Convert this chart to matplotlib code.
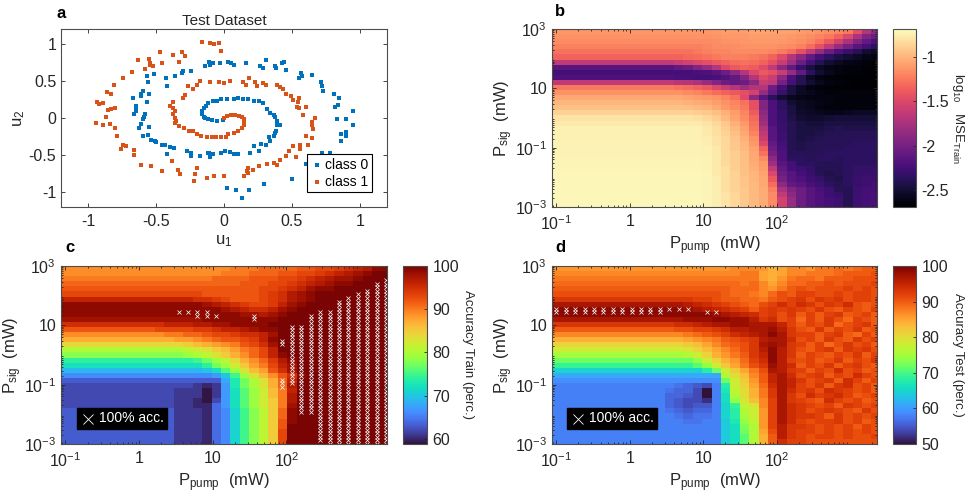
import matplotlib
matplotlib.use("Agg")
import matplotlib.pyplot as plt
import numpy as np
from matplotlib.patches import Rectangle
from matplotlib.ticker import LogLocator, NullFormatter

plt.rcParams["font.family"] = ["Liberation Sans", "DejaVu Sans"]
plt.rcParams["mathtext.default"] = "regular"
plt.rcParams["axes.unicode_minus"] = False

# Test dataset points
class0_u1 = [0.95, 0.95, 0.90, 0.83, 0.90, 0.865, 0.895, 0.865, 0.845, 0.81, 0.84, 0.82, 0.73, 0.725, 0.715, 0.65,
             0.57, 0.575, 0.555, 0.455, 0.445, 0.425, 0.375, 0.38, 0.31, 0.265, 0.285, 0.16, 0.07, 0.05, 0.03, -0.03,
             -0.08, -0.11, -0.10, -0.14, -0.24, -0.305, -0.31, -0.36, -0.43, -0.42, -0.515, -0.57, -0.56, -0.55,
             -0.60, -0.61, -0.67, -0.61, -0.565, -0.65, -0.65, -0.65, -0.665, -0.585, -0.59, -0.60, -0.61, -0.625,
             -0.555, -0.60, -0.56, -0.535, -0.51, -0.50, -0.455, -0.435, -0.40, -0.365, -0.42, -0.275, -0.24, -0.24,
             -0.18, -0.115, -0.105, -0.08, -0.11, -0.025, 0.01, 0.045, 0.07, 0.10, 0.19, 0.22, 0.255, 0.27, 0.31,
             0.33, 0.34, 0.365, 0.375, 0.385, 0.39, 0.41, 0.39, 0.375, 0.365, 0.335, 0.315, 0.29, 0.255, 0.22, 0.18,
             0.14, 0.10, 0.07, 0.02, -0.02, -0.05, -0.08, -0.115, -0.13, -0.15, -0.16, -0.165, -0.15, -0.14, -0.115,
             -0.09, -0.05, -0.01, 0.78, 0.72, 0.60, 0.50, 0.295, 0.185, 0.13, 0.09, 0.02]
class0_u2 = [0.09, -0.09, -0.01, -0.01, -0.19, -0.215, -0.245, -0.31, 0.27, 0.33, 0.18, 0.155, 0.365, 0.425, 0.49, 0.58,
             0.605, 0.57, 0.545, 0.65, 0.75, 0.74, 0.70, 0.68, 0.785, 0.70, 0.68, 0.735, 0.72, 0.74, 0.76, 0.74,
             0.74, 0.755, 0.72, 0.695, 0.63, 0.63, 0.605, 0.57, 0.54, 0.435, 0.59, 0.57, 0.48, 0.32,
             0.36, 0.32, 0.27, 0.29, 0.21, 0.165, 0.135, 0.09, 0.06, 0.06, 0.015, -0.02, -0.075, -0.14,
             -0.12, -0.245, -0.225, -0.29, -0.315, -0.32, -0.365, -0.37, -0.385, -0.41, -0.48, -0.45, -0.47, -0.515,
             -0.515, -0.47, -0.525, -0.49, -0.47, -0.47, -0.45, -0.46, -0.48, -0.485, -0.47, -0.38, -0.45, -0.345, -0.37,
             -0.255, -0.315, -0.245, -0.20, -0.17, -0.10, -0.10, -0.045, 0.02, 0.045, 0.07, 0.12, 0.20, 0.225, 0.235, 0.25,
             0.26, 0.265, 0.255, 0.26, 0.25, 0.235, 0.225, 0.20, 0.16, 0.13, 0.09, 0.05, 0.02, 0, -0.015,
             -0.03, -0.04, -0.03, -0.47, -0.47, -0.62, -0.82, -0.89, -0.97, -1.08, -0.975, -0.945]
class1_u1 = [0.65, 0.67, 0.645, 0.655, 0.605, 0.65, 0.615, 0.56, 0.56, 0.51, 0.475, 0.53, 0.46, 0.415, 0.39, 0.365,
             0.315, 0.255, 0.215, 0.18, 0.17, 0.18, 0.145, 0, -0.075, -0.125, -0.20, -0.215, -0.22, -0.325, -0.335,
             -0.38, -0.455, -0.535, -0.61, -0.66, -0.66, -0.72, -0.74, -0.755, -0.79, -0.80, -0.84, -0.89, -0.94,
             -0.87, -0.855, -0.83, -0.805, -0.89, -0.92, -0.935, -0.86, -0.835, -0.81, -0.745, -0.68, -0.63, -0.58,
             -0.55, -0.545, -0.545, -0.525, -0.47, -0.455, -0.375, -0.33, -0.31, -0.29, -0.165, -0.105, -0.075, -0.04,
             -0.02, -0.265, -0.23, -0.20, -0.18, -0.29, -0.305, -0.375, -0.40, -0.375, -0.36, -0.375, -0.36, -0.35,
             -0.10, -0.035, 0, 0.045, 0.14, 0.16, 0.185, 0.23, 0.24, 0.29, 0.31, 0.39, 0.415, 0.435, 0.46, 0.49, 0.51,
             0.55, 0.545, 0.535, 0.55, 0.60, 0.58, 0, 0.02, 0.05, 0.08, 0.11, 0.13, 0.145, 0.15, 0.15, 0.13, 0.10,
             0.07, 0.03, 0.015, -0.02, -0.06, -0.09, -0.125, -0.17, -0.20, -0.225, -0.26, -0.295, -0.33, -0.36]
class1_u2 = [-0.09, 0, -0.05, -0.155, -0.24, -0.27, -0.37, -0.37, -0.42, -0.38, -0.45, -0.525, -0.515, -0.56, -0.63, -0.605,
             -0.62, -0.65, -0.70, -0.67, -0.72, -0.74, -0.785, -0.785, -0.785, -0.805, -0.68, -0.76, -0.845, -0.76, -0.70,
             -0.585, -0.715, -0.65, -0.63, -0.425, -0.50, -0.38, -0.36, -0.415, -0.24, -0.135, -0.075, -0.10, -0.07,
             0.01, 0.11, 0.12, 0.135, 0.20, 0.19, 0.215, 0.35, 0.32, 0.44, 0.545, 0.615, 0.785, 0.66,
             0.795, 0.74, 0.71, 0.695, 0.89, 0.74, 0.85, 0.76, 0.895, 0.84, 1.02, 1.01, 0.995, 1.01,
             0.905, 0.435, 0.39, 0.45, 0.50, 0.315, 0.27, 0.215, 0.165, 0.135, 0.09, 0.05, 0, -0.04,
             0.48, 0.48, 0.47, 0.505, 0.485, 0.45, 0.54, 0.49, 0.435, 0.47, 0.44, 0.44, 0.415, 0.39, 0.33, 0.30, 0.245,
             0.27, 0.22, 0.155, 0.13, 0.155, 0.045, 0, 0.03, 0.04, 0.035, 0.03, 0.01, -0.02, -0.06, -0.10, -0.14, -0.17,
             -0.20, -0.22, -0.25, -0.25, -0.26, -0.25, -0.26, -0.24, -0.21, -0.18, -0.18, -0.13, -0.11, -0.07]

# log10 MSE train, times -100, top row first
mse_train = [
    [113]*17 + [112,110,110,110,108,108,108,108,108,110,112,115,118,120,125,145,170,190],
    [115]*17 + [114,112,112,112,110,110,110,110,112,114,116,120,125,135,150,175,195,205],
    [118]*16 + [118,116,115,114,113,112,112,112,112,114,116,120,128,140,155,175,195,210,220],
    [122]*16 + [120,118,117,116,115,115,115,115,116,118,122,130,145,165,185,200,215,225,235],
    [128]*15 + [125,122,120,120,118,118,118,118,120,124,130,145,165,185,205,220,230,240,250,255],
    [135]*14 + [132,130,128,125,122,122,122,124,128,135,148,170,190,210,225,235,245,250,255,260,262],
    [165]*13 + [160,155,150,145,140,135,130,128,130,135,145,160,180,205,225,240,250,255,260,262,265,265],
    [215]*13 + [210,205,195,185,170,150,140,135,138,148,165,190,210,230,245,255,260,262,265,265,267,267],
    [225]*15 + [222,220,215,205,190,170,150,140,145,160,185,210,235,250,258,262,265,267,268,268],
    [220]*13 + [222,222,225,225,222,218,210,195,170,150,160,190,220,240,255,262,265,267,268,268,268,268],
    [165]*13 + [168,170,175,185,195,205,210,205,190,160,165,200,225,240,250,258,262,265,267,268,268,268],
    [125]*13 + [128,130,135,140,150,160,170,180,170,170,205,225,245,255,262,265,267,268,268,268,268,268],
    [115]*13 + [115,118,120,125,130,135,140,145,155,185,210,230,245,255,258,262,265,265,265,265,265,265],
    [105]*14 + [108,110,112,115,120,128,148,190,215,235,250,258,260,262,262,262,265,265,265,265,265],
    [100]*14 + [102,104,106,110,115,120,128,145,195,220,235,250,255,258,260,262,265,265,265,265,265],
    [95]*14 + [96,98,100,105,112,118,125,145,195,220,235,245,255,258,262,265,265,265,265,265,265],
    [88]*14 + [88,90,92,96,102,110,120,138,190,220,232,245,252,255,258,260,260,258,255,255,255],
    [80]*14 + [80,82,85,90,98,108,118,132,185,220,232,242,250,252,252,250,248,248,248,248,248],
    [78]*14 + [78,78,80,85,92,102,112,128,180,220,230,240,245,248,248,245,245,245,245,245,245],
    [75]*14 + [75,75,78,82,90,98,108,125,170,215,230,240,245,245,245,242,240,242,242,242,242],
    [75]*14 + [75,75,78,82,88,96,105,120,165,215,228,240,245,245,242,240,240,238,238,238,238],
    [75]*14 + [75,75,76,80,86,94,102,115,160,215,228,240,245,242,240,238,238,238,238,238,238],
    [74]*14 + [74,74,76,80,85,92,100,112,150,210,225,240,242,240,238,238,238,238,235,235,235],
    [74]*14 + [74,74,75,79,85,92,98,108,135,205,222,240,242,240,238,238,238,235,235,235,235],
    [74]*14 + [74,74,75,78,84,90,96,106,128,200,220,238,238,238,238,235,235,235,235,235,235],
    [73]*14 + [73,73,74,78,84,90,96,105,118,190,220,235,235,238,235,235,238,235,235,235,235],
    [73]*14 + [73,73,74,78,84,90,96,104,112,180,215,225,235,235,238,240,238,235,235,235,235],
    [73]*14 + [73,73,74,78,82,90,95,102,110,165,210,225,228,232,240,240,240,235,232,232,232],
    [72]*14 + [72,72,73,78,82,88,95,100,108,150,205,215,225,230,238,242,240,235,232,230,230],
    [72]*14 + [72,72,73,76,82,88,94,100,106,140,200,215,220,228,232,240,242,235,230,228,228],
    [72]*14 + [72,72,73,76,82,88,94,98,106,130,190,210,215,222,228,235,240,235,230,228,225],
    [72]*14 + [72,72,73,76,82,88,92,98,104,122,175,195,205,215,222,228,238,240,228,225,225],
    [72]*14 + [72,72,73,76,80,86,92,98,104,118,165,190,205,215,220,228,232,240,228,225,222],
    [72]*14 + [72,72,73,76,80,86,92,98,104,118,155,185,205,215,220,225,228,240,228,225,222],
    [72]*14 + [72,72,73,76,80,86,92,98,104,118,155,185,205,215,220,225,228,240,228,225,222],
]

# Train accuracy in percent, top row first
acc_train = [
    [89]*18 + [90,90,90,91,91,91,91,92,92,93,93,94,95,96,97,99,99],
    [89]*17 + [90,90,90,91,91,91,92,92,93,93,94,95,96,97,98,99,100,100],
    [90]*16 + [91,91,91,91,92,92,92,93,93,94,95,96,97,98,98,99,100,100,100],
    [91]*16 + [91,91,91,92,92,92,93,93,94,95,96,97,98,99,99,100,100,100,100],
    [92]*15 + [92,92,92,92,92,92,93,93,94,95,96,98,99,99,100,100,100,100,100,100],
    [93]*14 + [93,92,92,92,92,92,92,93,94,95,97,98,99,100,100,100,100,100,100,100,100],
    [96]*14 + [95,95,94,93,92,92,92,93,94,95,97,98,99,100,100,100,100,100,100,100,100],
    [99]*15 + [98,97,96,95,94,93,93,94,96,98,99,100,100,100,100,100,100,100,100,100],
    [99]*16 + [99,98,97,96,95,95,96,98,99,100,100,100,100,100,100,100,100,100,100],
    [99]*17 + [99,99,98,98,97,98,99] + [100]*11,
    [98]*15 + [99]*8 + [100]*12,
    [95]*9 + [95,95,96,96,96,97,97,98,98,99,99,99,99] + [100]*13,
    [92]*9 + [92,93,93,93,93,94,94,95,96,96,97,98,99,99] + [100]*12,
    [89]*10 + [89,90,90,91,91,92,93,93,94,95,95,96,98] + [100]*12,
    [87]*11 + [87,88,88,89,90,91,92,92,93,94,96,99] + [100]*12,
    [84]*11 + [84,84,85,86,87,88,89,90,92,93,95,98] + [100]*12,
    [80]*12 + [80,81,82,83,85,86,88,90,91,93,96] + [100]*12,
    [78]*13 + [79,80,81,83,85,87,89,91,93,96,99] + [100]*11,
    [74]*14 + [75,77,79,81,84,87,89,91,94,97,99] + [100]*10,
    [72]*14 + [72,74,77,79,82,85,88,90,93,96,98] + [100]*10,
    [69]*15 + [70,72,76,79,83,86,88,92,95,98] + [100]*10,
    [66]*16 + [67,70,75,79,83,86,89,92,95,99] + [100]*9,
    [63]*17 + [68,73,77,80,83,87,91,96] + [100]*10,
    [62]*14 + [61,60,61,67,73,77,80,83,87,91,97] + [100]*10,
    [62]*12 + [61,61,61,59,61,67,72,76,79,82,86,90,96] + [100]*10,
    [62]*12 + [61,61,61,59,61,67,72,76,79,82,86,90,97] + [100]*10,
    [62]*12 + [61,61,60,59,62,67,72,76,79,82,85,90,97] + [100]*10,
    [62]*12 + [61,61,60,60,64,67,72,76,79,82,85,90,98] + [100]*10,
    [63]*12 + [61,61,61,60,64,66,71,75,78,81,85,91,99] + [100]*10,
    [63]*12 + [61,61,61,60,64,66,71,75,78,81,85,91,99] + [100]*10,
    [63]*12 + [61,61,61,60,64,66,71,75,78,81,85,92,99] + [100]*10,
    [63]*12 + [61,61,61,60,64,66,71,75,78,81,85,92,100] + [100]*10,
    [63]*12 + [61,61,61,60,64,66,71,75,78,81,85,93,100] + [100]*10,
    [63]*12 + [61,61,61,60,64,66,71,75,78,81,85,93,100] + [100]*10,
    [63]*12 + [61,61,61,60,64,66,71,75,78,81,85,93,100] + [100]*10,
]

# Test accuracy in percent, top row first
acc_test = [
    [86]*18 + [86,87,87,87,86,84,85,87,87,86,88,88,89,88,89,90,90],
    [87]*18 + [87,87,88,88,85,84,85,87,87,88,88,88,89,90,90,90,91],
    [88]*16 + [88,88,88,88,88,88,85,84,86,88,89,89,88,90,90,90,91,91,91],
    [89]*17 + [89,89,89,88,89,87,85,87,89,89,90,90,91,90,91,91,91,92],
    [90]*17 + [90,90,89,89,89,87,86,88,90,91,90,91,91,91,92,91,92,91],
    [91]*15 + [91,91,91,90,89,89,88,87,89,91,90,92,92,91,91,92,91,92,92,91],
    [93]*14 + [93,92,92,91,90,90,89,89,88,90,91,92,93,91,93,92,93,91,92,92,91],
    [97]*14 + [96,95,94,93,92,91,90,89,91,92,94,92,94,93,91,93,92,94,91,90,91],
    [99]*14 + [98,97,96,95,94,93,92,90,92,93,92,93,92,91,93,91,90,92,91,90,92],
    [99]*16 + [99,98,97,96,95,94,92,93,91,93,90,92,90,92,93,90,91,92,90],
    [97]*14 + [98,98,98,99,99,98,98,96,93,94,91,92,89,92,90,93,91,89,92,91,90],
    [93]*12 + [93,94,94,95,96,97,97,98,98,97,97,97,95,92,90,92,91,93,89,91,92,93,90],
    [90]*13 + [91,91,92,92,93,94,96,96,97,97,98,96,93,91,90,93,90,92,91,93,90,91],
    [87]*13 + [87,88,89,90,91,92,94,95,96,97,99,97,93,92,92,90,92,93,90,89,92,90],
    [84]*14 + [85,86,87,88,90,91,92,93,96,97,97,94,91,92,90,93,91,90,93,91,92],
    [81]*14 + [82,83,85,87,89,90,91,93,97,98,97,93,92,90,92,89,91,93,91,92,90],
    [78]*14 + [79,81,83,85,87,89,91,93,96,99,96,93,91,90,92,93,90,93,92,93,91],
    [75]*14 + [76,78,81,84,86,88,90,93,95,99,96,93,90,92,91,90,92,91,93,90,92],
    [72]*15 + [74,78,81,84,86,89,92,94,99,96,92,91,92,90,91,93,90,92,91,93],
    [69]*15 + [71,74,78,82,85,88,91,93,98,96,94,90,92,91,93,90,92,93,91,90],
    [65]*16 + [68,72,78,82,85,88,91,97,96,93,92,90,92,91,94,91,92,90,91],
    [61]*17 + [61,76,80,83,87,90,95,97,94,91,92,93,90,92,91,94,92,91],
    [59]*17 + [59,72,78,82,86,90,95,97,95,93,91,92,93,90,94,92,90,92],
    [58]*13 + [57,56,55,54,58,68,78,81,85,89,94,97,95,92,91,93,90,93,94,91,92,90],
    [58]*12 + [57,56,56,54,50,58,67,77,80,84,88,93,97,94,92,93,91,94,93,92,91,92,90],
    [58]*12 + [56,56,55,54,50,58,66,76,80,84,88,93,97,93,91,94,92,93,94,92,90,91,92],
    [58]*12 + [56,55,54,54,52,58,66,74,79,83,87,92,97,93,92,91,90,94,92,91,92,90,91],
    [58]*12 + [56,55,54,55,55,58,65,69,77,79,87,92,97,94,93,92,91,92,90,93,92,91,92],
    [58]*12 + [57,56,55,56,56,58,65,68,76,78,86,92,97,94,93,91,92,93,92,91,90,93,91],
    [58]*13 + [57,56,57,57,58,65,68,75,78,86,92,97,94,93,93,92,90,93,91,92,91,92],
    [58]*14 + [57,57,58,58,64,67,74,77,86,92,97,94,92,91,92,92,93,91,92,90,91],
    [58]*15 + [58,58,58,64,66,73,76,86,92,96,93,93,92,91,92,91,92,90,92,91],
    [58]*18 + [64,66,72,76,85,91,96,93,92,92,91,92,91,92,91,92,91],
    [58]*18 + [64,66,71,76,84,90,96,93,92,91,92,92,91,92,91,91,92],
    [58]*18 + [64,66,71,76,84,90,94,92,92,91,91,91,91,91,91,91,91],
]

# 100% accuracy runs: pump column index, lowest and highest Psig
train_mark_col = [12, 13, 14, 15, 16, 20, 23, 23, 24, 25, 26, 27, 28, 29, 30, 31, 32, 33, 34]
train_mark_low = [26, 26, 19, 19, 20, 15, 1.8, 0.07, 0.09, 0.01, 0.01, 0.0013, 0.001, 0.001, 0.001, 0.001, 0.001, 0.001, 0.001]
train_mark_high = [29, 29, 29, 29, 22, 22, 3.2, 0.15, 9.5, 12, 22, 28, 36, 66, 86, 116, 151, 272, 372]
test_mark_col = [0, 1, 2, 3, 4, 5, 6, 7, 8, 9, 10, 11, 12, 13, 14, 16, 17]
test_mark_low = [26]*12 + [35, 35, 35, 26, 26]
test_mark_high = [37]*15 + [29, 29]

x_ticks = [0.1, 1, 10, 100]
x_labels = ["$10^{-1}$", "1", "10", "$10^{2}$"]
y_ticks = [1e-3, 1e-1, 10, 1e3]
y_labels = ["$10^{-3}$", "$10^{-1}$", "10", "$10^{3}$"]
scatter_ticks = [-1, -0.5, 0, 0.5, 1]
scatter_labels = ["-1", "-0.5", "0", "0.5", "1"]

W, H = 969, 495
N = 35
COL_STEP = 0.128  # decades per pump column
pump = 0.1 * 10 ** (np.arange(N) * COL_STEP)
pump_edges = 0.1 * 10 ** ((np.arange(N + 1) - 0.5) * COL_STEP)
sig_edges = np.logspace(3, -3, N + 1)
mark_rows = np.logspace(-3, 3, 51)

LABEL_SIZE = 12
TICK_SIZE = 11.5
EDGE = "#4d4d4d"


def fix_rows(rows):
    return np.array([(r + r[-1:] * N)[:N] for r in rows], dtype=float)


def px_axes(left, top, right, bottom):
    return fig.add_axes([left / W, 1 - bottom / H, (right - left) / W, (bottom - top) / H])


def style_box(ax):
    for spine in ax.spines.values():
        spine.set_color(EDGE)
        spine.set_linewidth(0.8)
    ax.tick_params(which="both", direction="in", top=True, right=True, color="#262626",
                   labelsize=TICK_SIZE, labelcolor="#262626", width=0.6)
    ax.tick_params(which="major", length=3)
    ax.tick_params(which="minor", length=1.6)
    ax.tick_params(axis="x", which="major", pad=5)


def heatmap(box, cbox, data, cmap, vmin, vmax, cticks, clabels, clabel, label_x):
    ax = px_axes(*box)
    mesh = ax.pcolormesh(pump_edges, sig_edges, data, cmap=cmap, vmin=vmin, vmax=vmax,
                         shading="flat", linewidth=0, rasterized=True)
    ax.set_xscale("log")
    ax.set_yscale("log")
    ax.set_xlim(0.0873, 2309)
    ax.set_ylim(1e-3, 1e3)
    ax.set_xticks(x_ticks, x_labels)
    ax.set_yticks(y_ticks, y_labels)
    ax.xaxis.set_minor_locator(LogLocator(base=10, subs=np.arange(2, 10), numticks=50))
    ax.yaxis.set_minor_locator(LogLocator(base=10, subs=np.arange(2, 10), numticks=50))
    ax.xaxis.set_minor_formatter(NullFormatter())
    ax.yaxis.set_minor_formatter(NullFormatter())
    style_box(ax)
    ax.set_xlabel(r"$P_{pump}$  (mW)", fontsize=LABEL_SIZE, labelpad=1, color="#262626")
    ax.set_ylabel(r"$P_{sig}$  (mW)", fontsize=LABEL_SIZE, labelpad=0, color="#262626")

    cax = px_axes(*cbox)
    cbar = fig.colorbar(mesh, cax=cax)
    cbar.set_ticks(cticks, labels=clabels)
    cax.tick_params(direction="in", length=2.5, width=0.6, color="#262626",
                    labelsize=TICK_SIZE, labelcolor="#262626", pad=4)
    cbar.outline.set_edgecolor(EDGE)
    cbar.outline.set_linewidth(0.8)
    fig.text(label_x / W, 1 - (box[1] + box[3]) / 2 / H, clabel, rotation=270, ha="center", va="center",
             fontsize=9.5, color="#262626")
    return ax


def add_marks(ax, cols, lows, highs):
    for col, low, high in zip(cols, lows, highs):
        ys = mark_rows[(mark_rows >= low) & (mark_rows <= high)]
        ax.plot([pump[col]] * len(ys), ys, ls="none", marker="x", ms=2.2, mew=0.5, color="white", clip_on=True)


def add_key(ax, px_left):
    # black "100% acc." key
    box = ax.get_position()
    x0 = (px_left / W - box.x0) / box.width
    bw = (90 / W) / box.width
    y0 = ((H - 429) / H - box.y0) / box.height
    bh = (21 / H) / box.height
    ax.add_patch(Rectangle((x0, y0), bw, bh, transform=ax.transAxes, color="black", zorder=5))
    ax.plot([x0 + 11 / W / box.width], [y0 + bh / 2], transform=ax.transAxes, marker="x", ms=7,
            mew=0.6, color="white", zorder=6)
    ax.text(x0 + 22 / W / box.width, y0 + bh / 2, "100% acc.", transform=ax.transAxes, color="white",
            fontsize=10, va="center", ha="left", zorder=6)


fig = plt.figure(figsize=(W / 100, H / 100), dpi=100)

# Panel a
ax_a = px_axes(61, 29, 387, 207)
ax_a.scatter(class0_u1, class0_u2, s=9, marker="s", color="#0072BD", linewidths=0, label="class 0")
ax_a.scatter(class1_u1, class1_u2, s=9, marker="s", color="#D95319", linewidths=0, label="class 1")
ax_a.set_xlim(-1.2, 1.2)
ax_a.set_ylim(-1.2, 1.2)
ax_a.set_xticks(scatter_ticks, scatter_labels)
ax_a.set_yticks(scatter_ticks, scatter_labels)
style_box(ax_a)
ax_a.set_title("Test Dataset", fontsize=11, pad=3, color="#262626")
ax_a.set_xlabel("$u_1$", fontsize=LABEL_SIZE, labelpad=3, color="#262626")
ax_a.set_ylabel("$u_2$", fontsize=LABEL_SIZE, labelpad=1, color="#262626")
leg = ax_a.legend(loc="lower right", bbox_to_anchor=(0.954, 0.084), borderaxespad=0, fancybox=False,
                  framealpha=1, edgecolor="black", fontsize=10, handletextpad=0.1, borderpad=0.25,
                  labelspacing=0.2, handlelength=1.0, markerscale=0.9)
leg.get_frame().set_linewidth(0.8)
leg.set_zorder(10)

# Panel b
mse_values = -fix_rows(mse_train) / 100
heatmap((552, 29, 877, 207), (893, 29, 916, 207), mse_values, "magma", -2.69, -0.69,
        [-2.5, -2, -1.5, -1], ["-2.5", "-2", "-1.5", "-1"], r"$log_{10}$   $MSE_{Train}$", 958)

# Panel c
ax_c = heatmap((61, 266, 387, 444), (403, 266, 427, 444), fix_rows(acc_train), "turbo", 58.8, 100,
               [60, 70, 80, 90, 100], ["60", "70", "80", "90", "100"], "Accuracy Train (perc.)", 468)
add_marks(ax_c, train_mark_col, train_mark_low, train_mark_high)
add_key(ax_c, 77)

# Panel d
ax_d = heatmap((552, 266, 877, 444), (893, 266, 916, 444), fix_rows(acc_test), "turbo", 50, 100,
               [50, 60, 70, 80, 90, 100], ["50", "60", "70", "80", "90", "100"], "Accuracy Test (perc.)", 958)
add_marks(ax_d, test_mark_col, test_mark_low, test_mark_high)
add_key(ax_d, 567)

for letter, lx, ly in [("a", 61, 13), ("b", 560, 12), ("c", 70, 248), ("d", 560, 248)]:
    fig.text(lx / W, 1 - ly / H, letter, fontsize=12, fontweight="bold", ha="center", va="center")

fig.savefig("out.png", dpi=100)
